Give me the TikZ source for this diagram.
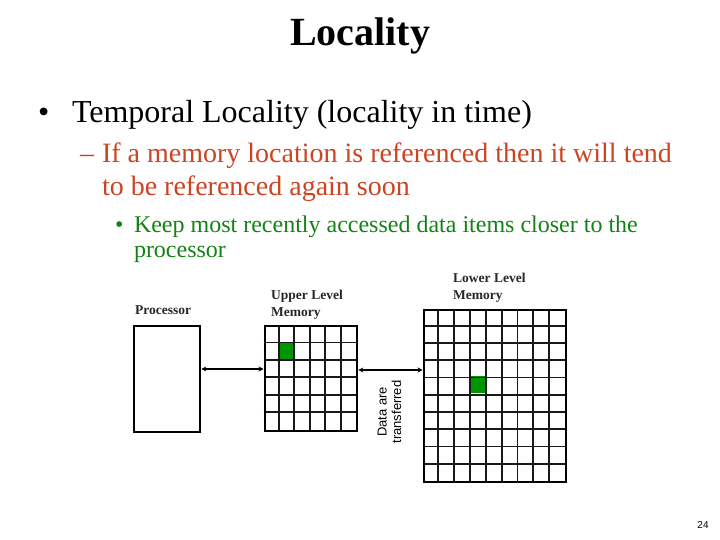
\documentclass[tikz,border=0pt]{standalone}
\usepackage{fontspec}
\setmainfont{Liberation Serif}
\newfontfamily\arialfont{Liberation Sans}
\usetikzlibrary{arrows.meta}
\definecolor{txtred}{RGB}{204,68,34}
\definecolor{txtgreen}{RGB}{20,130,20}
\definecolor{cellgreen}{RGB}{0,150,0}
\tikzset{
  txt/.style={anchor=base west, inner sep=0pt, outer sep=0pt},
  lbl/.style={anchor=base west, inner sep=0pt, font=\fontsize{13.5}{16}\selectfont\bfseries, text=black!85},
  outerbox/.style={draw=black, line width=2.3pt},
  gridline/.style={draw=black!90, line width=1.8pt},
  dblarrow/.style={line width=2pt, {Stealth[length=5pt,width=5pt]}-{Stealth[length=5pt,width=5pt]}},
}
\begin{document}
\begin{tikzpicture}[x=1pt,y=-1pt]
\useasboundingbox (0,0) rectangle (720,540);
% title
\node[anchor=base, inner sep=0pt, font=\fontsize{40}{44}\selectfont\bfseries] (title) at (360,46) {Locality};
% bullets
\node[txt, font=\fontsize{32}{36}\selectfont] (b1) at (38,123) {\textbullet};
\node[txt, font=\fontsize{32}{36}\selectfont] (t1) at (72,123) {Temporal Locality (locality in time)};
\node[txt, font=\fontsize{28}{32}\selectfont, text=txtred] (d1) at (80,163) {--};
\node[txt, font=\fontsize{28}{32}\selectfont, text=txtred] (t2) at (102,163) {If a memory location is referenced then it will tend};
\node[txt, font=\fontsize{28}{32}\selectfont, text=txtred] (t3) at (102,196) {to be referenced again soon};
\node[txt, font=\fontsize{24}{28}\selectfont, text=txtgreen] (b2) at (115,233) {\textbullet};
\node[txt, font=\fontsize{24}{28}\selectfont, text=txtgreen] (t4) at (134,233) {Keep most recently accessed data items closer to the};
\node[txt, font=\fontsize{24}{28}\selectfont, text=txtgreen] (t5) at (134,258) {processor};
% labels
\node[lbl] (lp) at (135,314) {Processor};
\node[lbl] (lu1) at (271,299.5) {Upper Level};
\node[lbl] (lu2) at (271,316.5) {Memory};
\node[lbl] (ll1) at (453,282.5) {Lower Level};
\node[lbl] (ll2) at (453,299.5) {Memory};
% processor box
\node[outerbox, minimum width=66pt, minimum height=106pt, inner sep=0pt, anchor=north west] (proc) at (133,325) {};
% upper memory grid 6x6
\fill[cellgreen] (263.5+15.42,325+17.42) rectangle (263.5+30.84,325+34.84);
\foreach \i in {1,...,5} {
  \draw[gridline] (263.5+\i*15.42,325) -- (263.5+\i*15.42,429.5);
  \draw[gridline] (263.5,325+\i*17.42) -- (356,325+\i*17.42);
}
\node[outerbox, minimum width=92.5pt, minimum height=104.5pt, inner sep=0pt, anchor=north west] (upper) at (263.5,325) {};
% lower memory grid 9x10
\fill[cellgreen] (422.5+3*15.83,308.5+3.9*17.25) rectangle (422.5+4*15.83,308.5+4.9*17.25);
\foreach \i in {1,...,8} {
  \draw[gridline] (422.5+\i*15.83,308.5) -- (422.5+\i*15.83,481);
}
\foreach \j in {1,...,9} {
  \draw[gridline] (422.5,308.5+\j*17.25) -- (565,308.5+\j*17.25);
}
\node[outerbox, minimum width=142.5pt, minimum height=172.5pt, inner sep=0pt, anchor=north west] (lower) at (422.5,308.5) {};
% arrows
\draw[dblarrow] (proc.east |- 0,369) -- (upper.west |- 0,369);
\draw[dblarrow] (upper.east |- 0,370) -- (lower.west |- 0,370);
% rotated label
\node[rotate=90, align=center, inner sep=0pt, font=\arialfont\fontsize{13}{14.5}\selectfont] (dt) at (389.5,412) {Data are\\transferred};
% page number
\node[anchor=base, inner sep=0pt, font=\arialfont\fontsize{10}{12}\selectfont] (pg) at (703,528) {24};
\end{tikzpicture}
\end{document}
